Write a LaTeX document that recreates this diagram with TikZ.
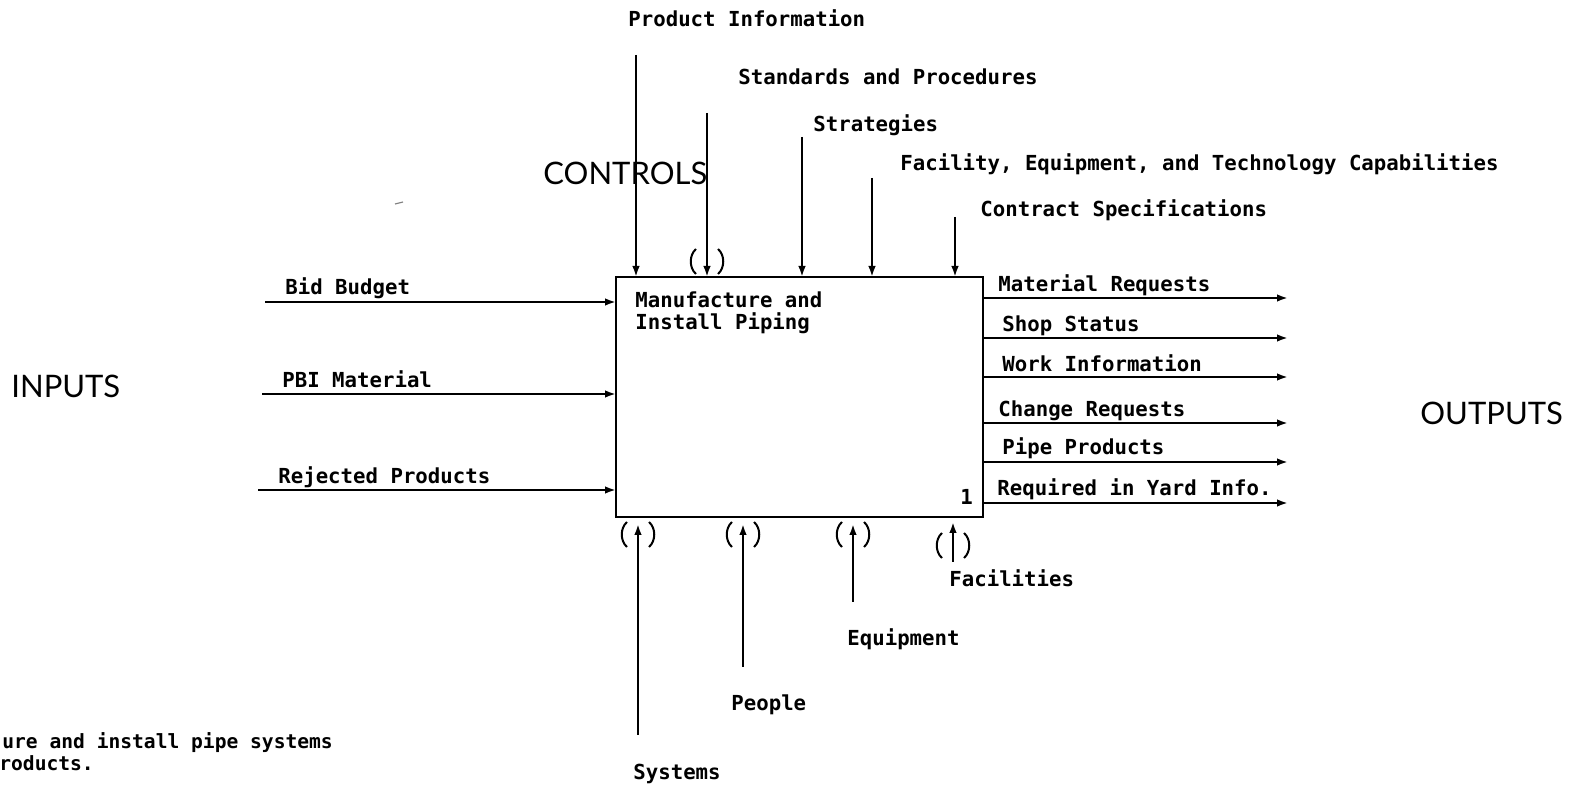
\documentclass[tikz,border=0pt]{standalone}
\usepackage{fontspec}
\setmonofont{DejaVu Sans Mono}
\newfontfamily\capfont{Lato}
\usetikzlibrary{arrows.meta}
\tikzset{
  lbl/.style={font=\ttfamily\bfseries\fontsize{10.35}{12}\selectfont, anchor=base west, inner sep=0pt},
  desc/.style={font=\ttfamily\bfseries\fontsize{9.8}{12}\selectfont, anchor=base west, inner sep=0pt},
  big/.style={font=\capfont\fontsize{15.5}{18}\selectfont, anchor=base west, inner sep=0pt},
  arr/.style={line width=1.3pt, -{Latex[length=5.5pt,width=3.8pt]}},
  procbox/.style={draw, line width=1.3pt, minimum width=183.5pt, minimum height=120pt, inner sep=0pt, outer sep=0pt},
  paren/.style={line width=1pt},
  tunnel/.pic={
    \draw[paren] (-11,0) .. controls (-18,6) and (-18,19) .. (-11,25);
    \draw[paren] (11,0) .. controls (18,6) and (18,19) .. (11,25);
  }
}
\begin{document}
\begin{tikzpicture}[x=0.5pt,y=-0.5pt]
\path[use as bounding box, fill=white] (0,0) rectangle (1581,785);

% activity box
\node[procbox] (box) at (799.5,397) {};
\node[lbl] (title1) at (635,308) {Manufacture and};
\node[lbl] (title2) at (635,330) {Install Piping};
\node[lbl] (num) at (960,505) {1};

% group labels
\node[big] (controls) at (543,185) {CONTROLS};
\node[big] (inputs) at (11,398) {INPUTS};
\node[big] (outputs) at (1420,425) {OUTPUTS};

% controls
\coordinate (cPI) at (636,55);
\coordinate (cSP) at (707,113);
\coordinate (cST) at (802,137);
\coordinate (cFE) at (872,178);
\coordinate (cCS) at (955,217);
\draw[arr] (cPI) -- (cPI |- box.north);
\draw[arr] (cSP) -- (cSP |- box.north);
\draw[arr] (cST) -- (cST |- box.north);
\draw[arr] (cFE) -- (cFE |- box.north);
\draw[arr] (cCS) -- (cCS |- box.north);
\pic at (707,249) {tunnel};
\node[lbl] (lPI) at (628,27) {Product Information};
\node[lbl] (lSP) at (738,85) {Standards and Procedures};
\node[lbl] (lST) at (813,132) {Strategies};
\node[lbl] (lFE) at (900,171) {Facility, Equipment, and Technology Capabilities};
\node[lbl] (lCS) at (980,217) {Contract Specifications};

% inputs
\coordinate (iBB) at (265,302);
\coordinate (iPM) at (262,394);
\coordinate (iRP) at (258,490);
\draw[arr] (iBB) -- (iBB -| box.west);
\draw[arr] (iPM) -- (iPM -| box.west);
\draw[arr] (iRP) -- (iRP -| box.west);
\node[lbl] (lBB) at (285,295) {Bid Budget};
\node[lbl] (lPM) at (282,388) {PBI Material};
\node[lbl] (lRP) at (278,484) {Rejected Products};

% outputs
\coordinate (oMR) at (1288,298);
\coordinate (oSS) at (1288,338);
\coordinate (oWI) at (1288,377);
\coordinate (oCR) at (1288,423);
\coordinate (oPP) at (1288,462);
\coordinate (oRY) at (1288,503);
\draw[arr] (oMR -| box.east) -- (oMR);
\draw[arr] (oSS -| box.east) -- (oSS);
\draw[arr] (oWI -| box.east) -- (oWI);
\draw[arr] (oCR -| box.east) -- (oCR);
\draw[arr] (oPP -| box.east) -- (oPP);
\draw[arr] (oRY -| box.east) -- (oRY);
\node[lbl] (lMR) at (998,292) {Material Requests};
\node[lbl] (lSS) at (1002,332) {Shop Status};
\node[lbl] (lWI) at (1002,372) {Work Information};
\node[lbl] (lCR) at (998,417) {Change Requests};
\node[lbl] (lPP) at (1002,455) {Pipe Products};
\node[lbl] (lRY) at (997,496) {Required in Yard Info.};

% mechanisms
\coordinate (mSY) at (638,735);
\coordinate (mPE) at (743,667);
\coordinate (mEQ) at (853,602);
\coordinate (mFA) at (953,562);
\draw[arr, shorten >=3.5pt] (mSY) -- (mSY |- box.south);
\draw[arr, shorten >=3.5pt] (mPE) -- (mPE |- box.south);
\draw[arr, shorten >=3.5pt] (mEQ) -- (mEQ |- box.south);
\draw[arr, shorten >=2.5pt] (mFA) -- (mFA |- box.south);
\pic at (638,522) {tunnel};
\pic at (743,522) {tunnel};
\pic at (853,522) {tunnel};
\pic at (953,533) {tunnel};
\node[lbl] (lSY) at (633,780) {Systems};
\node[lbl] (lPE) at (731,711) {People};
\node[lbl] (lEQ) at (847,646) {Equipment};
\node[lbl] (lFA) at (949,587) {Facilities};

% cut-off description text
\node[desc] (desc1) at (2,749) {ure and install pipe systems};
\node[desc] (desc2) at (-1,771) {roducts.};

% small scan mark
\draw[gray, line width=0.6pt] (395,204) -- (403,202);
\end{tikzpicture}
\end{document}
